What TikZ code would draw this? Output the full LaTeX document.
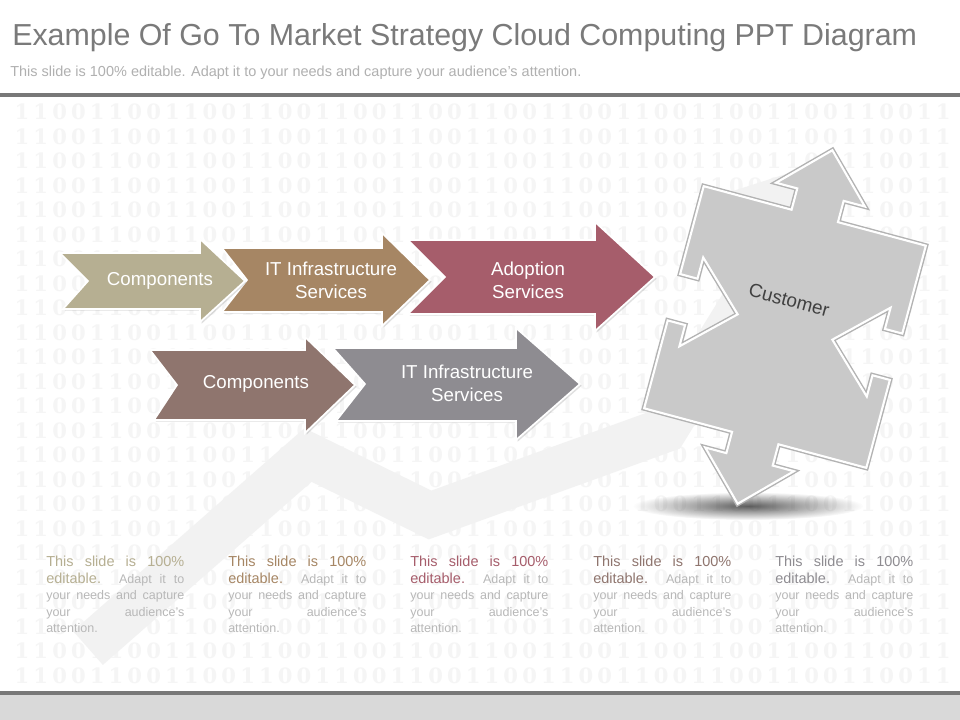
\documentclass[tikz,border=0pt]{standalone}
\usepackage{fontspec}
\setmainfont{Liberation Sans}
\newfontfamily\bitfont{DejaVu Serif}
\usetikzlibrary{shadows,fadings}

\definecolor{titlegray}{HTML}{7A7A7A}
\definecolor{subgray}{HTML}{B0B0B0}
\definecolor{rulegray}{HTML}{787878}
\definecolor{footgray}{HTML}{D9D9D9}
\definecolor{descgray}{HTML}{B8B8B8}
\definecolor{tan}{HTML}{B6AF92}
\definecolor{brownish}{HTML}{A68664}
\definecolor{rose}{HTML}{A65D6B}
\definecolor{mauve}{HTML}{8F756E}
\definecolor{slate}{HTML}{8E8C91}
\definecolor{custgray}{HTML}{C9C9C9}
\tikzfading[name=softshadow, inner color=transparent!10, outer color=transparent!100]

\begin{document}
\begin{tikzpicture}[x=0.025cm, y=-0.025cm,
    bit/.style={font=\bitfont\bfseries\fontsize{15}{15}\selectfont, text=black!4, inner sep=0},
    stage/.style={draw=white, line width=1.2pt,
        drop shadow={shadow xshift=1.2pt, shadow yshift=-1.2pt, opacity=0.25}},
    lbl/.style={text=white, font=\fontsize{13.3}{16.4}\selectfont, align=center},
    bgband/.style={black!5},
    desc/.style={anchor=north west, inner sep=0, align=left, text=descgray,
        font=\fontsize{8.9}{11.7}\selectfont}]
    \useasboundingbox (0,0) rectangle (960,720);
    \fill[white] (0,0) rectangle (960,720);

    % Binary background
    \foreach \r in {0,...,23}
        \foreach \c in {0,...,49} {
            \pgfmathtruncatemacro{\bitval}{mod(\c,4)<2}
            \node[bit] (bit-\r-\c) at (22+18.8*\c, 112+24.5*\r) {\bitval};
        }

    % Faint growth arrow behind
    \draw[bgband, line width=32pt, line join=miter]
        (88,648) -- (308,455) -- (430,515) -- (665,430) -- (780,244);
    \fill[bgband] (708,199) -- (833,159) -- (852,289) -- cycle;

    % Title and rules
    \node[anchor=base west, inner sep=0, text=titlegray,
        font=\fontsize{21.6}{26}\selectfont] (title) at (12,46)
        {Example Of Go To Market Strategy Cloud Computing PPT Diagram};
    \node[anchor=base west, inner sep=0, text=subgray,
        font=\fontsize{10.3}{12}\selectfont] (subtitle) at (10,77)
        {This slide is 100\% editable. Adapt it to your needs and capture your audience's attention.};
    \fill[rulegray] (0,93) rectangle (960,97);
    \fill[rulegray] (0,691) rectangle (960,695);
    \fill[footgray] (0,695) rectangle (960,720);

    % Row 1 - Adoption Services
    \fill[rose, stage] (408,240) -- (595,240) -- (595,222) -- (655,277)
        -- (595,331) -- (595,314) -- (408,314) -- (445,277) -- cycle;
    \node[lbl] (adopt) at (528,280) {Adoption\\Services};

    % Row 1 - IT Infrastructure Services
    \fill[brownish, stage] (222,248) -- (382,248) -- (382,233) -- (430,280)
        -- (382,326) -- (382,312) -- (222,312) -- (247,280) -- cycle;
    \node[lbl] (infraA) at (331,280) {IT Infrastructure\\Services};

    % Row 1 - Components
    \fill[tan, stage] (60,253) -- (200,253) -- (200,239) -- (245,281)
        -- (200,322) -- (200,309) -- (63,309) -- (88,281) -- cycle;
    \node[lbl] (compA) at (160,281) {Components};

    % Row 2 - IT Infrastructure Services
    \fill[slate, stage] (333,348) -- (516,348) -- (516,328) -- (580,384)
        -- (516,440) -- (516,421) -- (336,421) -- (365,384) -- cycle;
    \node[lbl] (infraB) at (467,383) {IT Infrastructure\\Services};

    % Row 2 - Components
    \fill[mauve, stage] (150,350) -- (305,350) -- (305,337) -- (355,385)
        -- (305,433) -- (305,420) -- (154,420) -- (177,385) -- cycle;
    \node[lbl] (compB) at (256,384) {Components};

    % Customer - ground shadow
    \fill[black!70, path fading=softshadow]
        (748,506) ellipse [x radius=115, y radius=14];

    % Customer - four way block
    \begin{scope}[shift={(785,327)}, rotate=-15]
        \fill[custgray, draw=white, line width=1.5pt,
            preaction={draw=black!30, line width=3.5pt}]
            (-115,-115) -- (-24,-115) -- (-24,-137) -- (-46,-137) -- (0,-183)
            -- (46,-137) -- (24,-137) -- (24,-115) -- (115,-115) -- (115,-24)
            -- (97,-24) -- (97,-46) -- (49,0) -- (97,46) -- (97,24) -- (115,24)
            -- (115,115) -- (24,115) -- (24,137) -- (46,137) -- (0,183)
            -- (-46,137) -- (-24,137) -- (-24,115) -- (-115,115) -- (-115,24)
            -- (-97,24) -- (-97,46) -- (-49,0) -- (-97,-46) -- (-97,-24)
            -- (-115,-24) -- cycle;
        \node[rotate=-15, text=black!75, font=\fontsize{13.5}{16}\selectfont]
            (cust) at (-3,-27) {Customer};
    \end{scope}

    % Descriptions
    \foreach \x/\col [count=\i] in {46/tan, 228/brownish, 410/rose, 593/mauve, 775/slate} {
        \node[desc] (desc\i) at (\x,556) {%
            \makebox[98.2pt][s]{\fontsize{10.3}{11.7}\selectfont\color{\col}This slide is 100\%}\\
            \makebox[98.2pt][s]{{\fontsize{10.3}{11.7}\selectfont\color{\col}editable.} Adapt it to}\\
            \makebox[98.2pt][s]{your needs and capture}\\
            \makebox[98.2pt][s]{your audience's}\\
            attention.};
    }
\end{tikzpicture}
\end{document}
